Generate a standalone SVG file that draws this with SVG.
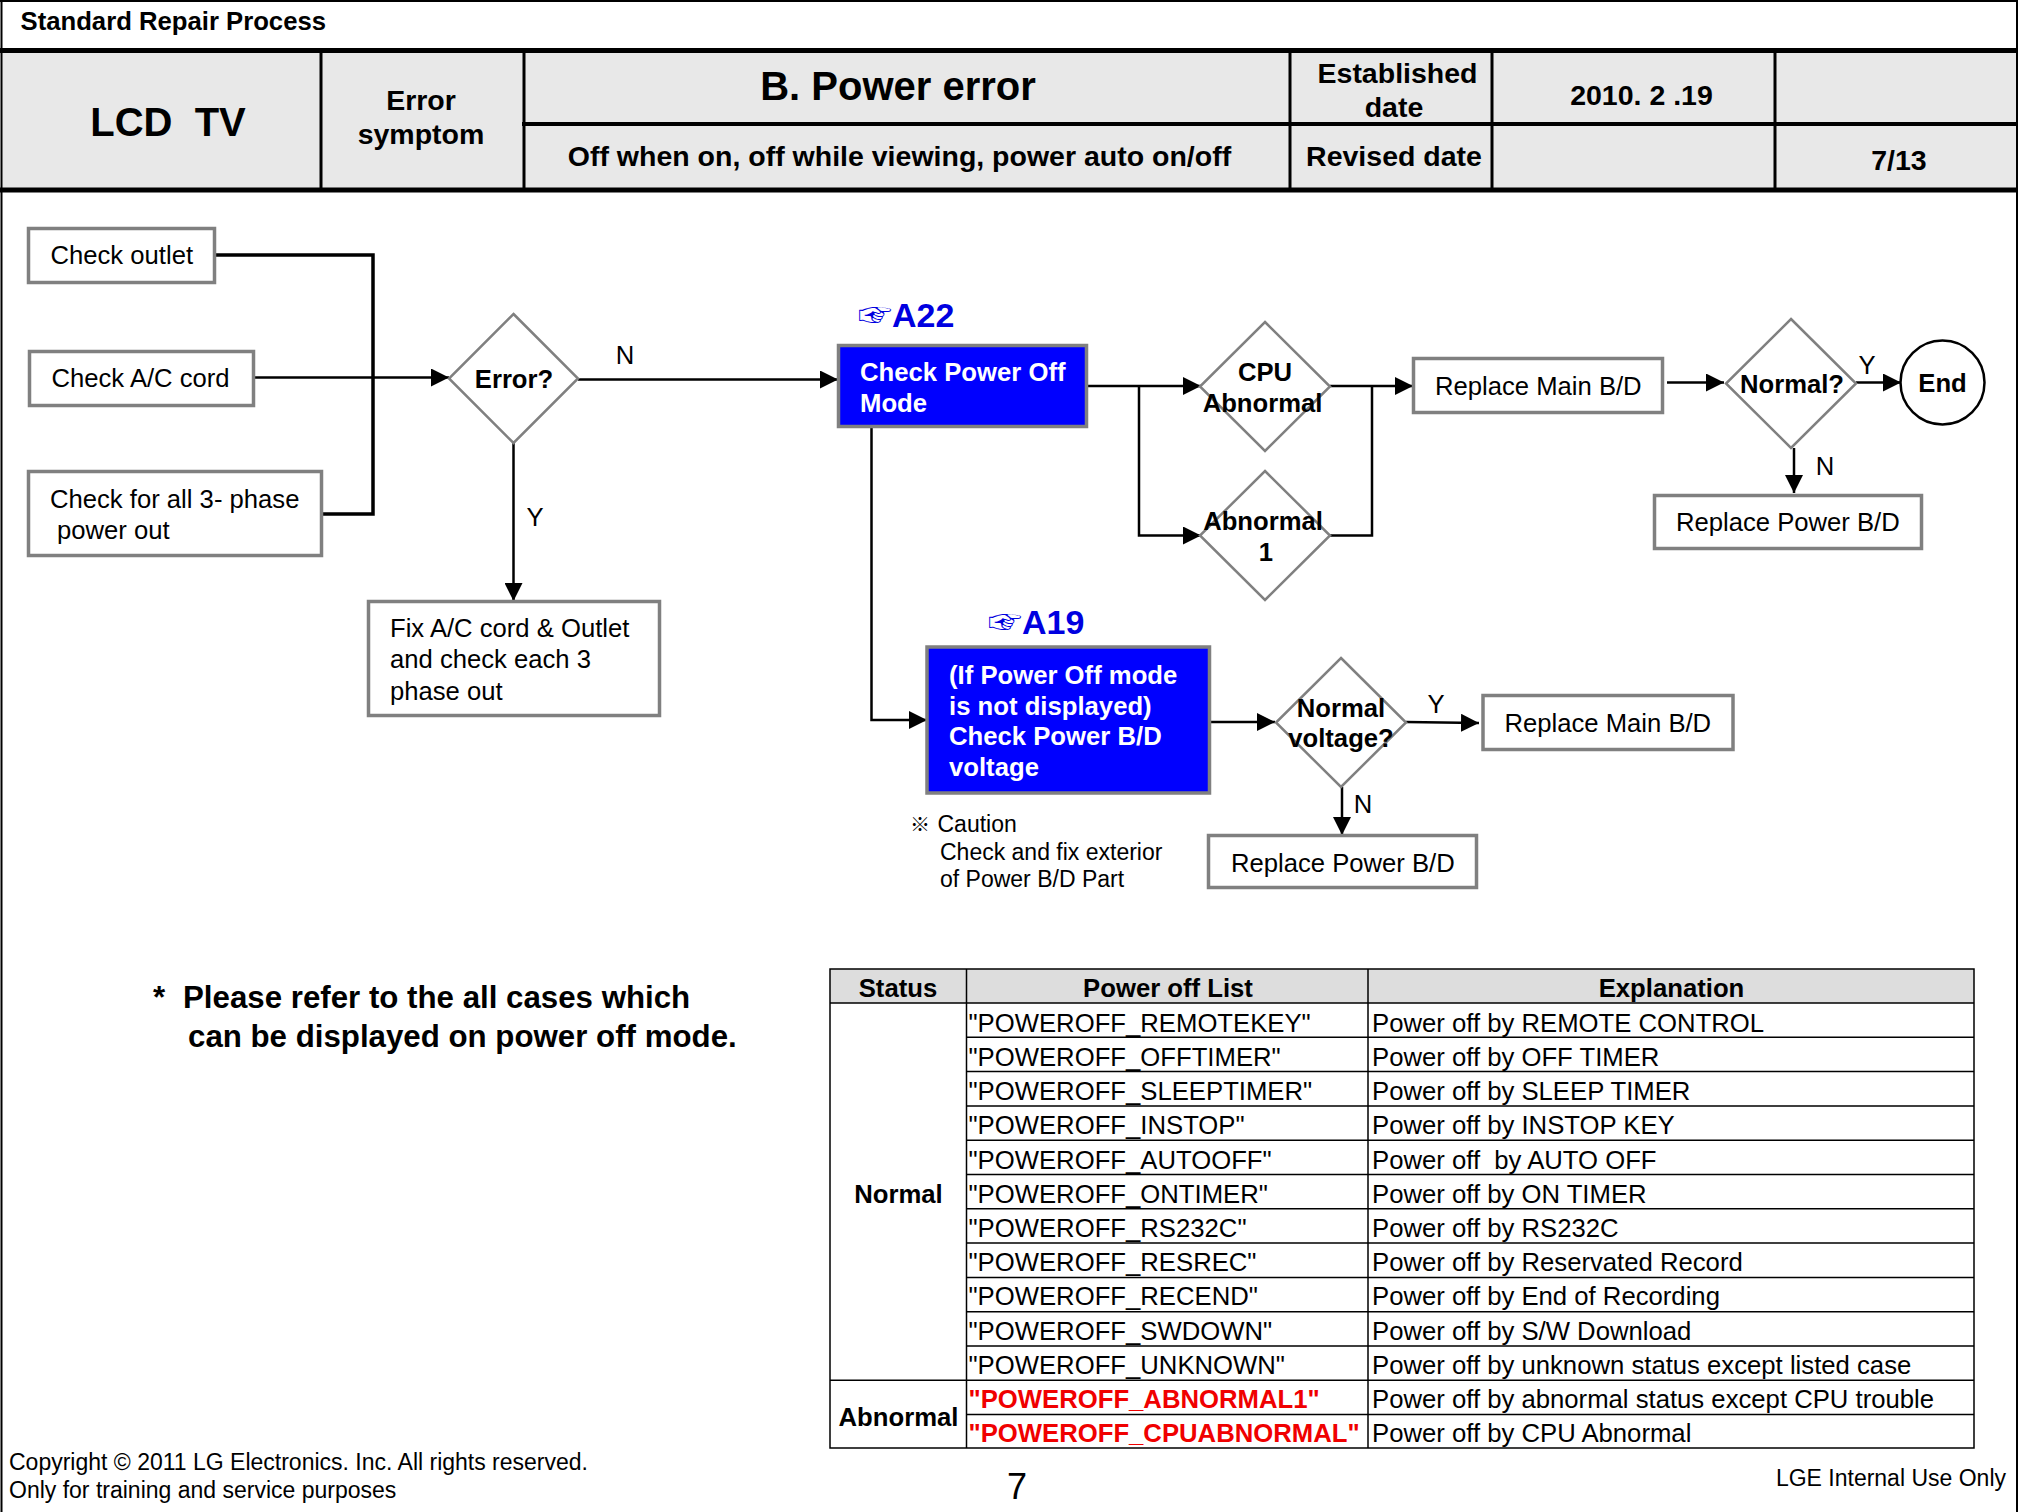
<svg xmlns="http://www.w3.org/2000/svg" width="2018" height="1512" viewBox="0 0 2018 1512">
<style>
text{font-family:"Liberation Sans",Arial,sans-serif;fill:#000}
.h{font-weight:bold;font-size:28.5px}
.c{text-anchor:middle}
.b{font-weight:bold}
.n{font-size:25.65px}
.nb{fill:#fff;stroke:#808080;stroke-width:3.5}
.bl{fill:#0000ff;stroke:#808080;stroke-width:3.5}
.d{fill:#fff;stroke:#808080;stroke-width:2.5}
.w{fill:#fff;font-weight:bold;font-size:25.7px}
.ref{fill:#0000e0;font-weight:bold;font-size:34px}
.hand{fill:#0000e0;font-family:"Noto Sans CJK KR","DejaVu Sans",sans-serif;font-size:34px}
.k{fill:none;stroke:#000;stroke-width:2.5}
.k3{fill:none;stroke:#000;stroke-width:3.5}
.t{font-size:25.7px}
.tl{stroke:#000;stroke-width:1.5;fill:none}
.r{fill:#f00000;font-weight:bold;font-size:25.7px}
.hl{stroke:#000;fill:none}
</style>
<defs>
<marker id="a" markerUnits="userSpaceOnUse" markerWidth="18" markerHeight="18" refX="18" refY="9" orient="auto"><path d="M0 0L18 9L0 18Z" fill="#000"/></marker>
</defs>
<rect width="2018" height="1512" fill="#fff"/>
<g id="header">
<rect x="2" y="50" width="2014" height="140" fill="#e8e8e8"/>
<path class="hl" stroke-width="2" d="M0 1H2018M1.5 0V1512M2017 0V1512"/>
<path class="hl" stroke-width="5" d="M0 50.5H2018M0 190H2016"/>
<path class="hl" stroke-width="4" d="M522 124H2018"/>
<path class="hl" stroke-width="3" d="M321 50V189M524 50V189M1290 50V189M1492 50V189M1775 50V189"/>
<text class="b" x="20.5" y="29.5" font-size="25.7">Standard Repair Process</text>
<text class="b c" x="168" y="136" font-size="40" xml:space="preserve">LCD  TV</text>
<text class="h c" x="421" y="110">Error</text>
<text class="h c" x="421" y="143.5">symptom</text>
<text class="b c" x="898" y="100" font-size="40">B. Power error</text>
<text class="h c" x="899.5" y="166">Off when on, off while viewing, power auto on/off</text>
<text class="h c" x="1397.5" y="83">Established</text>
<text class="h c" x="1394" y="116.5">date</text>
<text class="h c" x="1641.5" y="105">2010. 2 .19</text>
<text class="h c" x="1394" y="166">Revised date</text>
<text class="h c" x="1899" y="169.5">7/13</text>
</g>
<g id="connectors">
<path class="k3" d="M215 255H373V514H322"/>
<path class="k" d="M253 377.5H449" marker-end="url(#a)"/>
<path class="k" d="M578 379.5H838" marker-end="url(#a)"/>
<path class="k" d="M513.5 443V601" marker-end="url(#a)"/>
<path class="k" d="M1086 386H1201" marker-end="url(#a)"/>
<path class="k" d="M1139 386V535.5H1201" marker-end="url(#a)"/>
<path class="k" d="M1330 386H1413" marker-end="url(#a)"/>
<path class="k" d="M1330 535.5H1372V386"/>
<path class="k" d="M1667 382.5H1724" marker-end="url(#a)"/>
<path class="k" d="M1856 382.5H1901" marker-end="url(#a)"/>
<path class="k" d="M1794 448V493" marker-end="url(#a)"/>
<path class="k" d="M871.5 427V720H927" marker-end="url(#a)"/>
<path class="k" d="M1209.5 722H1275" marker-end="url(#a)"/>
<path class="k" d="M1406 722L1479 723" marker-end="url(#a)"/>
<path class="k" d="M1342 787V835" marker-end="url(#a)"/>
<text class="n" x="625" y="364" text-anchor="middle">N</text>
<text class="n" x="535" y="526" text-anchor="middle">Y</text>
<text class="n" x="1867" y="374" text-anchor="middle">Y</text>
<text class="n" x="1825" y="475" text-anchor="middle">N</text>
<text class="n" x="1436" y="713" text-anchor="middle">Y</text>
<text class="n" x="1363" y="813" text-anchor="middle">N</text>
</g>
<g id="check-outlet"><rect class="nb" x="28.5" y="228.5" width="186" height="54"/><text class="n" x="50.5" y="264">Check outlet</text></g>
<g id="check-ac"><rect class="nb" x="29.5" y="351.5" width="224" height="54"/><text class="n" x="51.5" y="387">Check A/C cord</text></g>
<g id="check-phase"><rect class="nb" x="28.5" y="471.5" width="293" height="84"/><text class="n" x="50" y="508">Check for all 3- phase</text><text class="n" x="57" y="539">power out</text></g>
<g id="error"><path class="d" d="M513.5 314L578 378.5L513.5 443L449 378.5Z"/><text class="n b c" x="514" y="388">Error?</text></g>
<g id="fix"><rect class="nb" x="368.5" y="601.5" width="291" height="114"/><text class="n" x="390" y="637">Fix A/C cord &amp; Outlet</text><text class="n" x="390" y="668">and check each 3</text><text class="n" x="390" y="699.5">phase out</text></g>
<g id="a22"><text class="hand" x="858" y="327">☞</text><text class="ref" x="892" y="327">A22</text><rect class="bl" x="838.5" y="345.5" width="248" height="81"/><text class="w" x="860" y="381">Check Power Off</text><text class="w" x="860" y="412">Mode</text></g>
<g id="cpu"><path class="d" d="M1265 322L1330 386.5L1265 451L1200 386.5Z"/><text class="n b c" x="1265" y="380.5">CPU</text><text class="n b c" x="1262.5" y="411.5">Abnormal</text></g>
<g id="abn1"><path class="d" d="M1265 471L1330 535.5L1265 600L1200 535.5Z"/><text class="n b c" x="1263" y="530">Abnormal</text><text class="n b c" x="1266" y="561">1</text></g>
<g id="main1"><rect class="nb" x="1413.5" y="358.5" width="249" height="54"/><text class="n" x="1435" y="394.5">Replace Main B/D</text></g>
<g id="normal"><path class="d" d="M1791 319L1856 383.5L1791 448L1726 383.5Z"/><text class="n b c" x="1792" y="392.5">Normal?</text></g>
<g id="end"><circle cx="1942.5" cy="382.5" r="42" fill="#fff" stroke="#000" stroke-width="2.5"/><text class="n b c" x="1942.5" y="392">End</text></g>
<g id="power1"><rect class="nb" x="1654.5" y="495.5" width="267" height="53"/><text class="n" x="1676" y="531">Replace Power B/D</text></g>
<g id="a19"><text class="hand" x="988" y="634">☞</text><text class="ref" x="1022" y="634">A19</text><rect class="bl" x="927" y="647" width="282.5" height="146"/><text class="w" x="949" y="684">(If Power Off mode</text><text class="w" x="949" y="715">is not displayed)</text><text class="w" x="949" y="745">Check Power B/D</text><text class="w" x="949" y="776">voltage</text></g>
<g id="voltage"><path class="d" d="M1341 658L1406 722.5L1341 787L1276 722.5Z"/><text class="n b c" x="1341" y="716.5">Normal</text><text class="n b c" x="1341" y="747">voltage?</text></g>
<g id="main2"><rect class="nb" x="1483" y="695.5" width="250" height="54"/><text class="n" x="1504.5" y="732">Replace Main B/D</text></g>
<g id="power2"><rect class="nb" x="1208.5" y="835.5" width="268" height="52"/><text class="n" x="1231" y="872">Replace Power B/D</text></g>
<g id="caution" font-size="23"><text x="910" y="832" style="font-family:'Noto Sans CJK KR','Liberation Sans',sans-serif" font-size="20">※</text><text x="937.5" y="832">Caution</text><text x="940" y="860">Check and fix exterior</text><text x="940" y="887">of Power B/D Part</text></g>
<g id="note" font-size="31.25" font-weight="bold"><text x="153" y="1008">*</text><text x="183" y="1008">Please refer to the all cases which</text><text x="188" y="1047">can be displayed on power off mode.</text></g>
<g id="table">
<rect x="830" y="969" width="1144" height="34" fill="#dddddd"/>
<path class="tl" d="M830 969H1974V1448H830ZM966.5 969V1448M1368 969V1448M830 1003H1974M966.5 1037.3H1974M966.5 1071.6H1974M966.5 1105.9H1974M966.5 1140.2H1974M966.5 1174.5H1974M966.5 1208.8H1974M966.5 1243.1H1974M966.5 1277.4H1974M966.5 1311.7H1974M966.5 1346H1974M830 1380.3H1974M966.5 1414.6H1974"/>
<text class="t b c" x="898" y="997">Status</text><text class="t b c" x="1168" y="997">Power off List</text><text class="t b c" x="1671.5" y="997">Explanation</text>
<text class="t b c" x="898.5" y="1203">Normal</text><text class="t b c" x="898.5" y="1426">Abnormal</text>
<g class="t">
<text class="t" x="968.5" y="1032">"POWEROFF_REMOTEKEY"</text><text class="t" x="1372" y="1032">Power off by REMOTE CONTROL</text>
<text class="t" x="968.5" y="1066">"POWEROFF_OFFTIMER"</text><text class="t" x="1372" y="1066">Power off by OFF TIMER</text>
<text class="t" x="968.5" y="1100">"POWEROFF_SLEEPTIMER"</text><text class="t" x="1372" y="1100">Power off by SLEEP TIMER</text>
<text class="t" x="968.5" y="1134">"POWEROFF_INSTOP"</text><text class="t" x="1372" y="1134">Power off by INSTOP KEY</text>
<text class="t" x="968.5" y="1169">"POWEROFF_AUTOOFF"</text><text class="t" x="1372" y="1169" xml:space="preserve">Power off  by AUTO OFF</text>
<text class="t" x="968.5" y="1203">"POWEROFF_ONTIMER"</text><text class="t" x="1372" y="1203">Power off by ON TIMER</text>
<text class="t" x="968.5" y="1237">"POWEROFF_RS232C"</text><text class="t" x="1372" y="1237">Power off by RS232C</text>
<text class="t" x="968.5" y="1271">"POWEROFF_RESREC"</text><text class="t" x="1372" y="1271">Power off by Reservated Record</text>
<text class="t" x="968.5" y="1305">"POWEROFF_RECEND"</text><text class="t" x="1372" y="1305">Power off by End of Recording</text>
<text class="t" x="968.5" y="1340">"POWEROFF_SWDOWN"</text><text class="t" x="1372" y="1340">Power off by S/W Download</text>
<text class="t" x="968.5" y="1374">"POWEROFF_UNKNOWN"</text><text class="t" x="1372" y="1374">Power off by unknown status except listed case</text>
<text class="r" x="968.5" y="1408">"POWEROFF_ABNORMAL1"</text><text class="t" x="1372" y="1408">Power off by abnormal status except CPU trouble</text>
<text class="r" x="968.5" y="1442">"POWEROFF_CPUABNORMAL"</text><text class="t" x="1372" y="1442">Power off by CPU Abnormal</text>
</g>
</g>
<g id="footer" font-size="23"><text x="9" y="1470">Copyright © 2011 LG Electronics. Inc. All rights reserved.</text><text x="9" y="1498">Only for training and service purposes</text><text x="1017" y="1499" font-size="36" text-anchor="middle">7</text><text x="2006" y="1486" text-anchor="end">LGE Internal Use Only</text></g>
</svg>
